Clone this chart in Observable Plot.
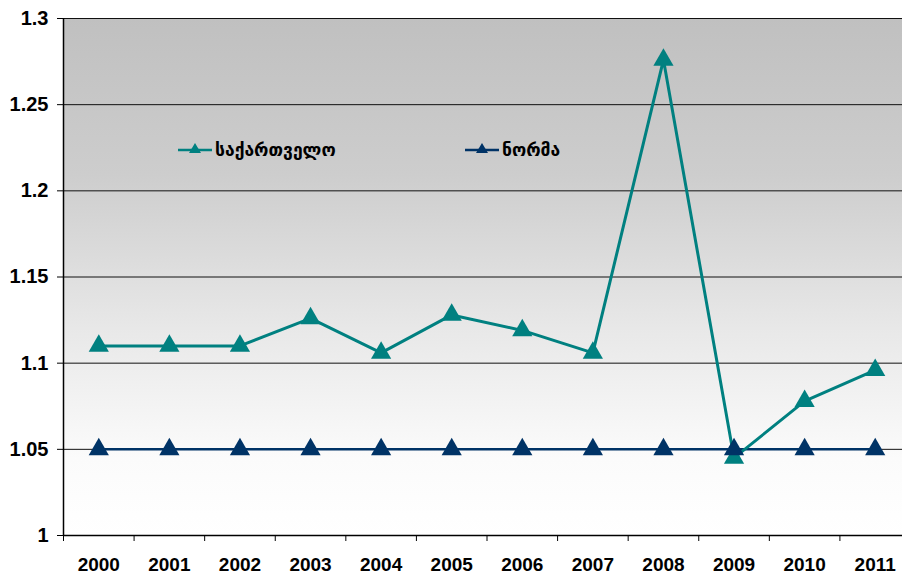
<!DOCTYPE html>
<html>
<head>
<meta charset="utf-8">
<script src="https://cdn.jsdelivr.net/npm/d3@7"></script>
<script src="https://cdn.jsdelivr.net/npm/@observablehq/plot@0.6"></script>
<style>
  html, body { margin: 0; padding: 0; background: #fff; overflow: hidden; }
  #wrap { position: relative; width: 902px; height: 574px; overflow: hidden; }
  .leg { position: absolute; display: flex; align-items: center; font-family: "DejaVu Sans", sans-serif; font-weight: bold; font-size: 17.5px; color: #000; }
  .leg svg { margin-right: 3px; }
</style>
</head>
<body>
<div id="wrap"></div>
<script>
const years = [2000, 2001, 2002, 2003, 2004, 2005, 2006, 2007, 2008, 2009, 2010, 2011];
const georgia = [1.11, 1.11, 1.11, 1.126, 1.106, 1.128, 1.119, 1.106, 1.276, 1.045, 1.078, 1.096];
const norma = [1.05, 1.05, 1.05, 1.05, 1.05, 1.05, 1.05, 1.05, 1.05, 1.05, 1.05, 1.05];
const seriesNames = ["საქართველო", "ნორმა"];
const seriesColors = ["#008080", "#003366"];
const yTicks = [1, 1.05, 1.1, 1.15, 1.2, 1.25, 1.3];

const dataG = years.map((y, i) => ({year: y, value: georgia[i]}));
const dataN = years.map((y, i) => ({year: y, value: norma[i]}));
const bounds = d3.range(years[0] - 0.5, years[years.length - 1] + 1, 1);

const defs = () => {
  const s = d3.create("svg:defs");
  const g = s.append("linearGradient").attr("id", "bggrad").attr("x1", 0).attr("y1", 0).attr("x2", 0).attr("y2", 1);
  g.append("stop").attr("offset", "0%").attr("stop-color", "#c0c0c0");
  g.append("stop").attr("offset", "30%").attr("stop-color", "#cdcdcd");
  g.append("stop").attr("offset", "60%").attr("stop-color", "#e8e8e8");
  g.append("stop").attr("offset", "85%").attr("stop-color", "#fbfbfb");
  g.append("stop").attr("offset", "100%").attr("stop-color", "#ffffff");
  return s.node();
};

const font = "'Liberation Sans', Arial, sans-serif";

const chart = Plot.plot({
  width: 902,
  height: 574,
  marginLeft: 63,
  marginTop: 18,
  marginRight: 0,
  marginBottom: 39,
  style: {fontFamily: font, fontSize: "19px", fontWeight: "bold", background: "transparent"},
  x: {domain: [years[0] - 0.5, years[years.length - 1] + 0.5], range: [63, 910]},
  y: {domain: [1, 1.3]},
  marks: [
    defs,
    Plot.frame({fill: "url(#bggrad)", stroke: null}),
    Plot.gridY(yTicks, {stroke: "#111", strokeOpacity: 1, strokeWidth: 1}),
    Plot.axisY({ticks: yTicks, tickSize: 6, tickPadding: 9, tickFormat: d => String(+d.toFixed(2)), label: null, stroke: "#000", fill: "#000", fontSize: 20, fontWeight: "bold", fontFamily: font}),
    Plot.axisX({ticks: years, tickSize: 0, tickPadding: 22, tickFormat: d => String(d), label: null, fill: "#000", fontSize: 19, fontWeight: "bold", fontFamily: font}),
    Plot.axisX({ticks: bounds, tickSize: 6, tickFormat: () => "", label: null, stroke: "#000"}),
    Plot.ruleX([years[0] - 0.5], {stroke: "#000", strokeWidth: 1.5}),
    Plot.ruleY([1], {stroke: "#000", strokeWidth: 1.5}),
    Plot.line(dataN, {x: "year", y: "value", stroke: seriesColors[1], strokeWidth: 2.5}),
    Plot.line(dataG, {x: "year", y: "value", stroke: seriesColors[0], strokeWidth: 3}),
    Plot.dot(dataG, {x: "year", y: "value", symbol: "triangle", r: 7.5, fill: seriesColors[0], stroke: "none"}),
    Plot.dot(dataN, {x: "year", y: "value", symbol: "triangle", r: 7.5, fill: seriesColors[1], stroke: "none"})
  ]
});

const wrap = document.getElementById("wrap");
wrap.appendChild(chart);

const legPos = [{left: 178, top: 139}, {left: 465, top: 139}];
seriesNames.forEach((name, i) => {
  const d = document.createElement("div");
  d.className = "leg";
  d.style.left = legPos[i].left + "px";
  d.style.top = legPos[i].top + "px";
  const c = seriesColors[i];
  d.innerHTML = `<svg width="34" height="22"><line x1="0" y1="11" x2="34" y2="11" stroke="${c}" stroke-width="2.5"/><path d="M17,4 L23,14 L11,14 Z" fill="${c}"/></svg><span>${name}</span>`;
  wrap.appendChild(d);
});
</script>
</body>
</html>
